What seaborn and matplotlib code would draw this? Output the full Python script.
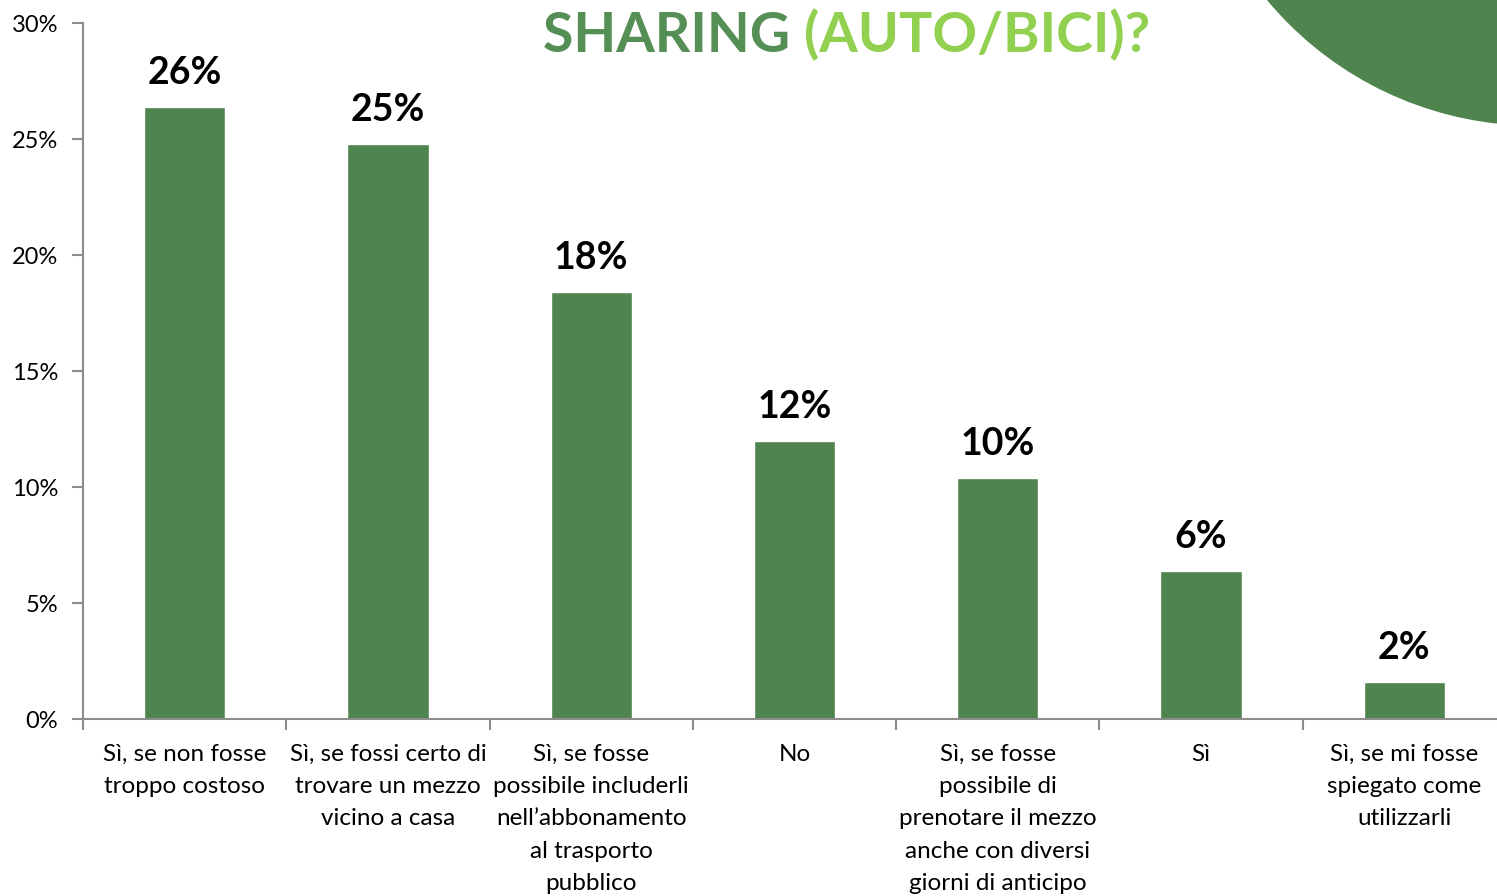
import seaborn as sns
import matplotlib.pyplot as plt
from matplotlib.patches import Ellipse
from matplotlib.ticker import PercentFormatter, FixedLocator

categories = [
    "Sì, se non fosse\ntroppo costoso",
    "Sì, se fossi certo di\ntrovare un mezzo\nvicino a casa",
    "Sì, se fosse\npossibile includerli\nnell\u2019abbonamento\nal trasporto\npubblico",
    "No",
    "Sì, se fosse\npossibile di\nprenotare il mezzo\nanche con diversi\ngiorni di anticipo",
    "Sì",
    "Sì, se mi fosse\nspiegato come\nutilizzarli",
]
shares = [0.264, 0.248, 0.184, 0.120, 0.104, 0.064, 0.016]
yticks = [0, 0.05, 0.10, 0.15, 0.20, 0.25, 0.30]

bar_green = "#4F844F"
dark_green = "#558F55"
light_green = "#92D050"
spine_grey = "#8C8C8C"

sns.set_theme(style="white")
plt.rcParams["font.family"] = ["Lato", "DejaVu Sans"]

W, H = 1497, 896
fig = plt.figure(figsize=(W / 100, H / 100), dpi=100)
ax = fig.add_axes([83 / W, 1 - 719 / H, 1423 / W, (719 - 23) / H])
ax.patch.set_visible(False)

sns.barplot(x=list(range(len(categories))), y=shares, color=bar_green,
            width=0.4, saturation=1, ax=ax)
ax.bar_label(ax.containers[0], fmt="{:.0%}", padding=12,
             fontsize=27, fontweight="bold", color="black")

ax.set_xlim(-0.5, len(categories) - 0.5)
ax.set_ylim(0, 0.30)
ax.set_yticks(yticks)
ax.yaxis.set_major_formatter(PercentFormatter(1.0, decimals=0))
ax.set_xticks(range(len(categories)))
ax.set_xticklabels(categories, fontsize=17.5, linespacing=1.66)
ax.xaxis.set_minor_locator(FixedLocator([i - 0.5 for i in range(len(categories) + 1)]))
ax.tick_params(axis="x", which="major", length=0, pad=18, colors="black")
ax.tick_params(axis="x", which="minor", bottom=True, length=8, width=1.5, color=spine_grey)
ax.tick_params(axis="y", left=True, length=8, width=1.5, color=spine_grey,
               labelsize=17, labelcolor="black", pad=10)
for lbl in ax.get_xticklabels():
    lbl.set_verticalalignment("top")
for side in ["top", "right"]:
    ax.spines[side].set_visible(False)
for side in ["left", "bottom"]:
    ax.spines[side].set_color(spine_grey)
    ax.spines[side].set_linewidth(1.5)

# decorative circle top right
fig.add_artist(Ellipse((1535 / W, 1 + 223 / H), 2 * 348 / W, 2 * 348 / H,
                       transform=fig.transFigure, color=bar_green, zorder=0))

# title (partially visible)
t1 = fig.text(543 / W, 1 - 52 / H, "SHARING ", fontsize=40, fontweight="bold",
              color=dark_green, va="baseline", ha="left")
fig.canvas.draw()
bb = t1.get_window_extent()
fig.text(bb.x1 / W, 1 - 52 / H, "(AUTO/BICI)?", fontsize=40, fontweight="bold",
         color=light_green, va="baseline", ha="left")

fig.savefig("out.png", dpi=100, facecolor="white")
